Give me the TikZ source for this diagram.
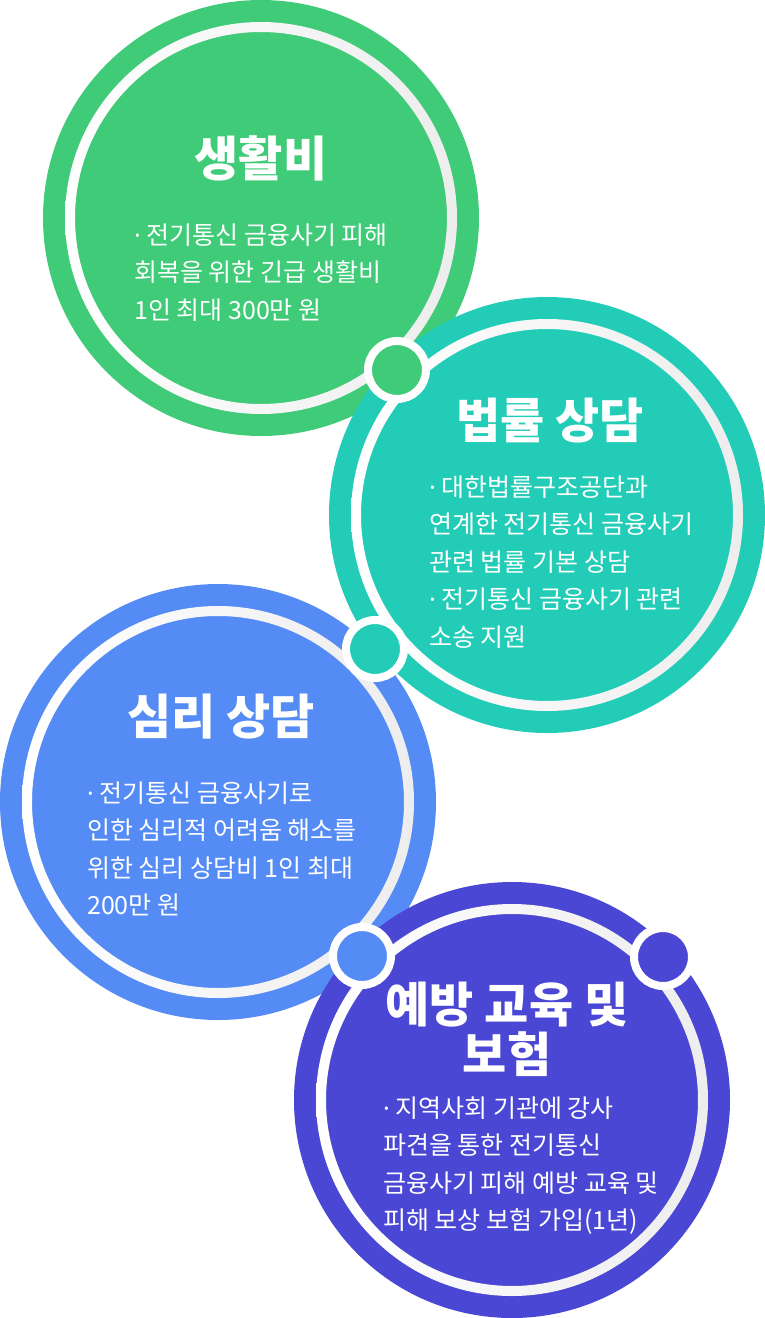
\documentclass[tikz,border=0pt]{standalone}
\usepackage{fontspec}
\setmainfont{Noto Sans CJK KR}
\newfontfamily\dotfont{Noto Sans}
\usepackage{tikz}
\usetikzlibrary{shapes.geometric}

\definecolor{livinggreen}{HTML}{3FCB77}
\definecolor{lawteal}{HTML}{22CCB7}
\definecolor{mindblue}{HTML}{558BF5}
\definecolor{guardpurple}{HTML}{4A47D4}

\newcommand\bul{{\dotfont ·}}

\tikzset{
	disc/.style={circle, minimum size=436pt, inner sep=0pt},
	ring/.style={even odd rule, left color=white, right color=black!7},
	joint/.style={circle, draw=white, line width=8pt, minimum size=58pt, inner sep=0pt},
	title/.style={text=white, font=\bfseries\fontsize{48}{50}\selectfont, align=center, inner sep=0pt},
	body/.style={text=white, font=\fontsize{25}{37.5}\selectfont, align=left, anchor=north west, inner sep=0pt}
}

\begin{document}
\begin{tikzpicture}[x=1pt, y=-1pt]
		%%%%% START %%%%%
		
		\useasboundingbox (0, 0) rectangle (765, 1318);
		
		\node[disc, fill=livinggreen] (living) at (261, 218) {};
		\shade[ring] (living.center) circle (196pt) circle (186pt);
		
		\node[disc, fill=lawteal] (law) at (547, 515) {};
		\shade[ring] (law.center) circle (196pt) circle (186pt);
		
		\node[disc, fill=mindblue] (mind) at (218, 802) {};
		\shade[ring] (mind.center) circle (196pt) circle (186pt);
		
		\node[disc, fill=guardpurple] (guard) at (512, 1100) {};
		\shade[ring] (guard.center) circle (196pt) circle (186pt);
		
		\node[joint, fill=livinggreen] (jointa) at (397, 370) {};
		\node[joint, fill=lawteal] (jointb) at (375, 649) {};
		\node[joint, fill=mindblue] (jointc) at (362, 956) {};
		\node[joint, fill=guardpurple] (jointd) at (663, 957) {};
		
		\node[title] (livingtitle) at (261, 158) {생활비};
		\node[body] (livingbody) at (134, 223.5) {\bul{} 전기통신 금융사기 피해\\회복을 위한 긴급 생활비\\1인 최대 300만 원};
		
		\node[title] (lawtitle) at (550, 421) {법률 상담};
		\node[body] (lawbody) at (429, 475.5) {\bul{} 대한법률구조공단과\\연계한 전기통신 금융사기\\관련 법률 기본 상담\\\bul{} 전기통신 금융사기 관련\\소송 지원};
		
		\node[title] (mindtitle) at (221, 717) {심리 상담};
		\node[body] (mindbody) at (87, 781.5) {\bul{} 전기통신 금융사기로\\인한 심리적 어려움 해소를\\위한 심리 상담비 1인 최대\\200만 원};
		
		\node[title] (guardtitle) at (507, 1029) {예방 교육 및\\보험};
		\node[body] (guardbody) at (383, 1096.5) {\bul{} 지역사회 기관에 강사\\파견을 통한 전기통신\\금융사기 피해 예방 교육 및\\피해 보상 보험 가입(1년)};
		
		%%%%% END %%%%%
	\end{tikzpicture}
\end{document}
